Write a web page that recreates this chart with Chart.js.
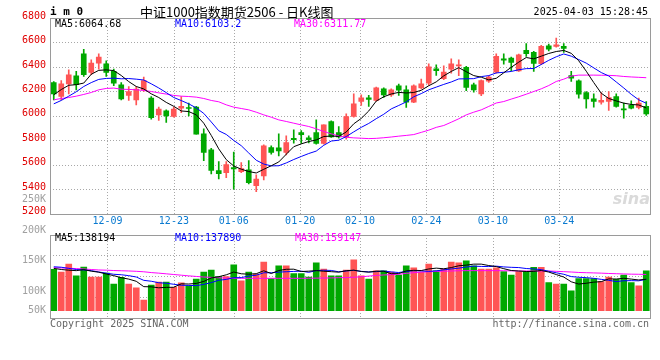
<!DOCTYPE html>
<html><head><meta charset="utf-8">
<script src="https://cdn.jsdelivr.net/npm/chart.js@4.4.1/dist/chart.umd.min.js"></script>
<style>
html,body{margin:0;padding:0;background:#fff;}
#wrap{position:relative;width:660px;height:360px;overflow:hidden;background:#fff;}
canvas{position:absolute;left:0;}
.t{position:absolute;white-space:pre;font-family:"DejaVu Sans Mono",monospace;font-size:10px;line-height:12px;color:#000;z-index:5;}
</style></head><body>
<div id="wrap">
<canvas id="main" width="660" height="235" style="top:0px"></canvas>
<canvas id="vol" width="660" height="150" style="top:190px"></canvas>
<div class="t" style="left:50px;top:5px;font-weight:bold;font-size:11px;line-height:13px;">i m 0</div>
<div class="t" style="left:140px;top:4px;font-family:'Noto Sans CJK SC',sans-serif;font-size:13px;line-height:16px;">中证1000指数期货2506 - 日K线图</div>
<div class="t" style="right:12px;top:6px;">2025-04-03 15:28:45</div>
<div class="t" id="pm5" style="left:55px;top:18px;color:#000;"></div>
<div class="t" id="pm10" style="left:175px;top:18px;color:#0000ff;"></div>
<div class="t" id="pm30" style="left:294px;top:18px;color:#ff00ff;"></div>
<div class="t" id="vm5" style="left:55px;top:232px;color:#000;"></div>
<div class="t" id="vm10" style="left:175px;top:232px;color:#0000ff;"></div>
<div class="t" id="vm30" style="left:295px;top:232px;color:#ff00ff;"></div>
<div class="t" style="left:50px;top:318px;color:#666;">Copyright 2025 SINA.COM</div>
<div class="t" style="right:11px;top:318px;color:#666;">http://finance.sina.com.cn</div>
<div class="t" style="right:10px;top:189px;font-family:'DejaVu Sans',sans-serif;font-style:italic;font-weight:bold;font-size:16px;line-height:20px;color:#dadada;z-index:1;">sina</div>
</div>
<script>
const dates = ['12-04','12-05','12-06','12-09','12-10','12-11','12-12','12-13','12-16','12-17','12-18','12-19','12-20','12-23','12-24','12-25','12-26','12-27','12-30','12-31',
'01-02','01-03','01-06','01-07','01-08','01-09','01-10','01-13','01-14','01-15','01-16','01-17','01-20','01-21','01-22','01-23','01-24','01-27','02-05','02-06',
'02-07','02-10','02-11','02-12','02-13','02-14','02-17','02-18','02-19','02-20','02-21','02-24','02-25','02-26','02-27','02-28','03-03','03-04','03-05','03-06',
'03-07','03-10','03-11','03-12','03-13','03-14','03-17','03-18','03-19','03-20','03-21','03-24','03-25','03-26','03-27','03-28','03-31','04-01','04-02','04-03'];
const tickDates = ['12-09','12-23','01-06','01-20','02-10','02-24','03-10','03-24'];

const opens = [6273,6158,6262,6328,6508,6355,6431,6426,6363,6254,6167,6131,6213,6145,6008,6041,5995,6063,6068,6071,
5853,5722,5553,5536,5577,5544,5558,5430,5509,5741,5738,5700,5817,5864,5820,5864,5774,5954,5864,5828,
5995,6117,6147,6126,6221,6172,6246,6213,6112,6229,6268,6385,6303,6382,6409,6396,6254,6180,6284,6358,
6467,6472,6368,6535,6519,6426,6573,6568,6568,6330,6287,6191,6139,6112,6117,6158,6057,6085,6068,6077];
const highs = [6281,6289,6377,6363,6543,6459,6508,6450,6382,6273,6240,6240,6317,6158,6071,6049,6071,6158,6104,6077,
5894,5735,5626,5626,5703,5618,5634,5517,5763,5754,5853,5836,5886,5880,5836,5967,5926,5959,5913,6016,
6180,6172,6167,6235,6229,6221,6259,6246,6254,6300,6426,6418,6409,6467,6459,6404,6268,6295,6328,6508,
6508,6480,6505,6590,6527,6576,6587,6636,6590,6363,6295,6199,6180,6191,6199,6180,6104,6123,6145,6117];
const lows = [6131,6131,6180,6213,6322,6336,6382,6322,6246,6131,6126,6090,6199,5973,5962,5946,5989,6027,6000,5850,
5634,5525,5484,5495,5400,5536,5443,5381,5476,5686,5673,5681,5776,5774,5779,5768,5768,5823,5817,5809,
5989,6085,6077,6120,6150,6158,6167,6068,6107,6221,6248,6330,6295,6349,6328,6205,6194,6164,6273,6349,
6423,6368,6363,6486,6363,6418,6530,6562,6519,6281,6145,6063,6071,6096,6044,6071,5981,6057,6057,6003];
const closes = [6180,6262,6336,6254,6336,6431,6480,6355,6268,6139,6199,6218,6289,5986,6055,6000,6055,6077,6060,5850,
5700,5553,5528,5602,5566,5569,5454,5484,5754,5700,5714,5782,5806,5847,5806,5774,5926,5828,5828,5995,
6098,6147,6134,6229,6172,6213,6210,6112,6246,6262,6401,6369,6358,6426,6418,6232,6213,6289,6317,6486,
6456,6437,6499,6508,6429,6568,6546,6581,6551,6308,6177,6139,6117,6126,6150,6077,6049,6063,6104,6016];

const ma5 = [6172,6215,6250,6255,6268,6340,6372,6376,6370,6330,6280,6240,6220,6180,6150,6110,6078,6040,6035,6008,
5940,5840,5730,5642,5590,5564,5545,5533,5563,5592,5623,5686,5748,5771,5790,5803,5831,5835,5832,5868,
5935,5979,6040,6121,6156,6179,6192,6187,6191,6209,6246,6278,6327,6363,6394,6361,6329,6316,6294,6307,
6352,6397,6439,6477,6466,6488,6510,6526,6535,6511,6450,6365,6272,6185,6142,6122,6104,6093,6089,6064.68];
const ma10 = [6098,6126,6161,6197,6240,6272,6298,6306,6308,6303,6305,6300,6293,6262,6228,6190,6150,6125,6098,6065,
6020,5950,5878,5848,5799,5756,5696,5637,5606,5591,5592,5615,5643,5668,5692,5712,5759,5794,5801,5831,
5869,5906,5938,5977,6013,6057,6085,6114,6156,6182,6213,6235,6257,6277,6302,6303,6304,6321,6329,6351,
6356,6363,6377,6386,6387,6420,6454,6483,6506,6488,6460,6431,6392,6354,6326,6277,6228,6176,6131,6103.2];
const ma30 = [6131,6142,6150,6161,6175,6191,6213,6224,6227,6218,6216,6213,6208,6199,6188,6178,6167,6161,6158,6153,
6142,6126,6115,6090,6071,6060,6049,6030,6008,5989,5967,5954,5940,5926,5913,5894,5872,5853,5836,5825,
5820,5817,5814,5816,5821,5827,5834,5840,5847,5865,5883,5906,5921,5948,5976,6008,6030,6049,6077,6105,
6117,6137,6156,6177,6199,6221,6248,6281,6300,6325,6333,6333,6333,6332,6331,6328,6322,6318,6315,6311.77];

const volumes = [182000,170000,205000,153000,192000,148000,148000,165000,117000,147000,117000,100000,47000,113000,126000,126000,103000,122000,109000,139000,
170000,179000,150000,150000,201000,131000,170000,161000,214000,141000,197000,197000,163000,163000,148000,210000,183000,153000,153000,179000,
223000,153000,139000,175000,175000,170000,157000,197000,188000,170000,205000,175000,183000,214000,210000,219000,197000,183000,183000,188000,
172000,157000,172000,172000,191000,191000,123000,117000,117000,87000,141000,141000,141000,128000,148000,138000,157000,123000,109000,175000];
const volMa5 = [186000,181000,178000,176000,180400,173600,169200,161200,154000,145000,138800,129200,105600,104800,100600,102400,103000,118000,117200,119800,
128600,143800,149400,157600,170000,162200,160400,162600,175400,163400,176600,182000,182400,172200,173600,176200,173400,171400,169400,175600,
178200,172200,169400,173800,173000,162400,163200,174800,177400,176400,183400,187000,184200,189400,197400,200200,204600,204600,198400,194000,
184600,176600,174400,172200,172800,176600,169800,158800,147800,127000,117000,120600,125400,127600,139800,139200,142400,138800,135000,138194];
const volMa10 = [193000,191000,186000,181000,179000,176000,170000,165000,160000,158000,154000,148000,133400,129400,122800,120600,116100,111800,111000,110200,
115500,123400,133700,137400,144900,145400,152100,156000,166500,166700,169400,171200,172500,173800,168500,176400,177700,176900,170800,174600,
177200,172800,170400,171600,174300,170300,167700,172100,175600,174700,172900,175100,179500,183400,186900,191800,195800,194400,193900,195700,
192400,190600,189500,185300,183400,180600,173200,166600,160000,149900,146800,145200,142100,137700,133400,128100,131500,132100,131300,137890];
const volMa30 = [189000,188000,186500,185000,183300,181000,179000,178000,176500,175500,174500,173000,171000,167500,165000,162000,159000,156000,153000,150500,
148000,146500,144500,143500,142500,142300,142300,142300,142300,142300,142300,142300,142300,142300,142500,143000,143500,144000,145000,145500,
147000,149000,152000,155000,157000,158500,160000,164000,167000,169500,171000,172500,173500,174500,175500,176000,176000,176000,176000,176000,
175500,175000,174500,174500,174500,174500,174500,173000,171500,170000,168000,167000,166000,165000,163500,162500,161500,160500,160000,159147];

const volAxisValues = [250000,200000,150000,100000,50000];
const volAxisLabels = ['250K','200K','150K','100K','50K'];

const UP = '#ff5555', DOWN = '#00a800', GRID = '#a8a8a8', FRAME = '#9a9a9a';
const MONO = '"DejaVu Sans Mono", monospace';
const colors = closes.map((c, i) => c >= opens[i] ? UP : DOWN);
const tickIdx = tickDates.map(d => dates.indexOf(d));

document.getElementById('pm5').textContent = 'MA5:' + ma5[ma5.length - 1];
document.getElementById('pm10').textContent = 'MA10:' + ma10[ma10.length - 1];
document.getElementById('pm30').textContent = 'MA30:' + ma30[ma30.length - 1];
document.getElementById('vm5').textContent = 'MA5:' + volMa5[volMa5.length - 1];
document.getElementById('vm10').textContent = 'MA10:' + volMa10[volMa10.length - 1];
document.getElementById('vm30').textContent = 'MA30:' + volMa30[volMa30.length - 1];

Chart.defaults.animation = false;
Chart.defaults.font.family = MONO;
Chart.defaults.font.size = 10;

// dotted grid drawn at the ticks of the chart's own scales, then a solid frame
const gridFramePlugin = {
  id: 'gridFrame',
  beforeDatasetsDraw(chart) {
    const {ctx, chartArea: a} = chart;
    ctx.save();
    ctx.strokeStyle = GRID; ctx.lineWidth = 1; ctx.setLineDash([1, 2]);
    const xs = chart.scales.x2, ys = chart.scales.y;
    xs.ticks.forEach(t => {
      const x = Math.round(xs.getPixelForValue(t.value)) + 0.5;
      ctx.beginPath(); ctx.moveTo(x, Math.round(a.top)); ctx.lineTo(x, Math.round(a.bottom)); ctx.stroke();
    });
    ys.ticks.forEach(t => {
      const y = Math.round(ys.getPixelForValue(t.value)) + 0.5;
      ctx.beginPath(); ctx.moveTo(Math.round(a.left), y); ctx.lineTo(Math.round(a.right), y); ctx.stroke();
    });
    ctx.restore();
  },
  afterDraw(chart) {
    const {ctx, chartArea: a} = chart;
    ctx.save();
    ctx.strokeStyle = FRAME; ctx.lineWidth = 1;
    const l = Math.round(a.left) + 0.5, t = Math.round(a.top) + 0.5;
    const r = Math.round(a.right) + 0.5, b = Math.round(a.bottom) + 0.5;
    ctx.strokeRect(l, t, r - l, b - t);
    ctx.restore();
  }
};

// Sina's own volume label scale (labels are placed independently of the bar scale)
const VOL_LABEL = {anchorValue: 100000, anchorY: 291, pxPerUnit: 0.0006087, maxY: 310.7, canvasTop: 190, x: 46};
const volLabelPlugin = {
  id: 'volLabels',
  afterDraw(chart) {
    const ctx = chart.ctx;
    ctx.save();
    ctx.font = '10px ' + MONO; ctx.fillStyle = '#a0a0a0';
    ctx.textAlign = 'right'; ctx.textBaseline = 'middle';
    volAxisValues.forEach((v, i) => {
      let y = VOL_LABEL.anchorY + (VOL_LABEL.anchorValue - v) * VOL_LABEL.pxPerUnit;
      y = Math.min(y, VOL_LABEL.maxY);
      ctx.fillText(volAxisLabels[i], VOL_LABEL.x, y - VOL_LABEL.canvasTop);
    });
    ctx.restore();
  }
};

const lineDs = (data, color) => ({type: 'line', data, borderColor: color, borderWidth: 1, pointRadius: 0, tension: 0, order: 0, xAxisID: 'x'});

function dateAxis(showLabels, h) {
  return {
    type: 'linear', position: 'bottom', min: 0, max: dates.length - 1,
    afterBuildTicks: s => { s.ticks = tickIdx.map(v => ({value: v})); },
    afterFit: s => { s.height = h; },
    grid: {display: false, drawTicks: false},
    border: {display: false},
    ticks: {display: showLabels, autoSkip: false, maxRotation: 0, minRotation: 0, padding: 2,
            color: '#0a7ad0', font: {family: MONO, size: 10}, callback: v => dates[v]}
  };
}

new Chart(document.getElementById('main'), {
  type: 'bar',
  data: {
    labels: dates,
    datasets: [
      lineDs(ma5, '#000000'),
      lineDs(ma10, '#0000ff'),
      lineDs(ma30, '#ff00ff'),
      {type: 'bar', data: opens.map((o, i) => [o, closes[i]]), backgroundColor: colors, barThickness: 5, minBarLength: 1, grouped: false, borderWidth: 0, order: 2},
      {type: 'bar', data: lows.map((l, i) => [l, highs[i]]), backgroundColor: colors, barThickness: 1, grouped: false, borderWidth: 0, order: 3}
    ]
  },
  options: {
    responsive: false,
    layout: {padding: {left: 0, right: 10, top: 18, bottom: 0}},
    plugins: {legend: {display: false}, tooltip: {enabled: false}},
    scales: {
      x: {type: 'category', display: false, offset: true},
      x2: dateAxis(true, 21.3),
      y: {min: 5200, max: 6800, afterFit: s => { s.width = 50; },
          ticks: {stepSize: 200, color: '#e00000', padding: 4, labelOffset: -2, font: {family: MONO, size: 10}, callback: v => String(v)},
          grid: {display: false, drawTicks: false},
          border: {display: false}}
    }
  },
  plugins: [gridFramePlugin]
});

new Chart(document.getElementById('vol'), {
  type: 'bar',
  data: {
    labels: dates,
    datasets: [
      lineDs(volMa5, '#000000'),
      lineDs(volMa10, '#0000ff'),
      lineDs(volMa30, '#ff00ff'),
      {type: 'bar', data: volumes, backgroundColor: colors, barThickness: 6, borderWidth: 0, order: 2}
    ]
  },
  options: {
    responsive: false,
    layout: {padding: {left: 0, right: 10, top: 44.7, bottom: 22.5}},
    plugins: {legend: {display: false}, tooltip: {enabled: false}},
    scales: {
      x: {type: 'category', display: false, offset: true},
      x2: dateAxis(false, 0),
      y: {min: -30000, max: 334000, afterFit: s => { s.width = 50; },
          afterBuildTicks: s => { const n = 4; s.ticks = Array.from({length: n + 1}, (_, k) => ({value: s.min + k * (s.max - s.min) / n})); },
          ticks: {display: false},
          grid: {display: false, drawTicks: false},
          border: {display: false}}
    }
  },
  plugins: [gridFramePlugin, volLabelPlugin]
});
</script>
</body></html>
